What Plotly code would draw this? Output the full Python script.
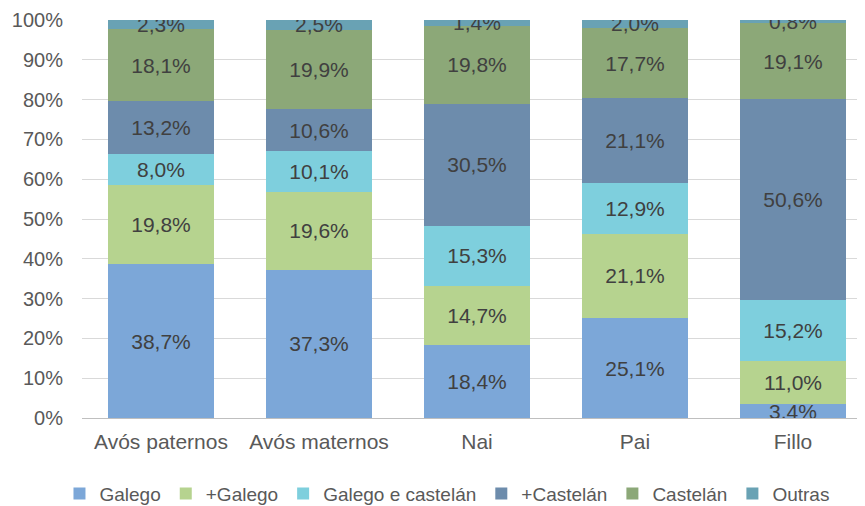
import plotly.graph_objects as go

categories = ["Avós paternos", "Avós maternos", "Nai", "Pai", "Fillo"]
series_names = ["Galego", "+Galego", "Galego e castelán", "+Castelán", "Castelán", "Outras"]
galego = [38.7, 37.3, 18.4, 25.1, 3.4]
mais_galego = [19.8, 19.6, 14.7, 21.1, 11.0]
galego_castelan = [8.0, 10.1, 15.3, 12.9, 15.2]
mais_castelan = [13.2, 10.6, 30.5, 21.1, 50.6]
castelan = [18.1, 19.9, 19.8, 17.7, 19.1]
outras = [2.3, 2.5, 1.4, 2.0, 0.8]
tick_vals = [0, 10, 20, 30, 40, 50, 60, 70, 80, 90, 100]
tick_text = [f"{v}%" for v in tick_vals]

series_values = [galego, mais_galego, galego_castelan, mais_castelan, castelan, outras]
colors = ["#7ca7d8", "#b6d38f", "#7ecfdd", "#6d8cac", "#8ca878", "#69a2b4"]

FONT = "Liberation Sans, Arial, sans-serif"

fig = go.Figure()
for name, vals, col in zip(series_names, series_values, colors):
    fig.add_trace(go.Bar(
        name=name,
        x=categories,
        y=vals,
        marker=dict(color=col, line=dict(width=0)),
        text=[f"{v:.1f}".replace(".", ",") + "%" for v in vals],
        textposition="inside",
        insidetextanchor="middle",
        textangle=0,
        constraintext="none",
        textfont=dict(color="#404040", size=21, family=FONT),
        hoverinfo="skip",
        width=0.665,
    ))

fig.update_layout(
    barmode="stack",
    barnorm="percent",
    width=865,
    height=506,
    margin=dict(l=74, r=1, t=12, b=96, autoexpand=False),
    paper_bgcolor="white",
    plot_bgcolor="white",
    uniformtext=dict(mode="show", minsize=21),
    font=dict(family=FONT, color="#595959", size=21),
    showlegend=True,
    legend=dict(
        orientation="h",
        x=0.462, xanchor="center",
        yref="container",
        y=0.04, yanchor="middle",
        font=dict(size=19, color="#595959", family=FONT),
        itemwidth=30,
        traceorder="normal",
        tracegroupgap=0,
    ),
    xaxis=dict(
        range=[-0.5, 4.5],
        tickfont=dict(size=21, color="#595959", family=FONT),
        showgrid=False,
        showline=True,
        linecolor="#bfbfbf",
        ticks="",
        ticklabelstandoff=5,
        automargin=False,
    ),
    yaxis=dict(
        range=[0, 100],
        tickvals=tick_vals,
        ticktext=tick_text,
        tickfont=dict(size=20, color="#595959", family=FONT),
        showgrid=True,
        gridcolor="#d9d9d9",
        zeroline=False,
        ticks="",
        ticklabelstandoff=18,
        automargin=False,
    ),
)

fig.write_html("out.html")
